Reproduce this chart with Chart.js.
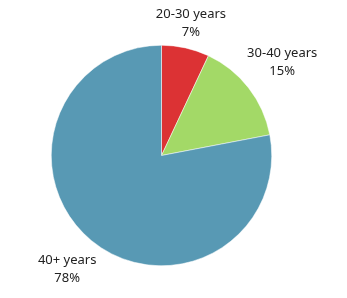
<!DOCTYPE html>
<html>
<head>
<meta charset="utf-8">
<script src="https://cdn.jsdelivr.net/npm/chart.js@4"></script>
<style>
  html, body { margin: 0; padding: 0; background: #fff; }
  #wrap { width: 347px; height: 298px; position: relative; }
</style>
</head>
<body>
<div id="wrap"><canvas id="pieChart"></canvas></div>
<script>
// 연령대별 비중
const labels = ['20-30 years', '30-40 years', '40+ years'];
const values = [7, 15, 78];
const colors = ['#dc3234', '#a3d967', '#5899b4'];

// 조각 바깥쪽에 이름 + 퍼센트 표시
const outsideLabels = {
  id: 'outsideLabels',
  afterDatasetsDraw(chart) {
    const ctx = chart.ctx;
    const meta = chart.getDatasetMeta(0);
    ctx.save();
    ctx.font = '13px "Noto Sans"';
    ctx.fillStyle = '#222';
    ctx.textAlign = 'center';
    ctx.textBaseline = 'middle';
    meta.data.forEach((arc, i) => {
      const mid = (arc.startAngle + arc.endAngle) / 2;
      const s = Math.abs(Math.cos(mid));
      const d = arc.outerRadius + 18 + 31 * s;
      const x = arc.x + Math.cos(mid) * d;
      const y = arc.y + Math.sin(mid) * d;
      ctx.fillText(labels[i], x, y - 9);
      ctx.fillText(values[i] + '%', x, y + 9);
    });
    ctx.restore();
  },
};

new Chart(document.getElementById('pieChart'), {
  type: 'pie',
  data: {
    labels,
    datasets: [{
      data: values,
      backgroundColor: colors,
      borderColor: '#ffffff',
      borderWidth: 0.5,
    }],
  },
  options: {
    responsive: true, maintainAspectRatio: false, animation: false,
    layout: { padding: { left: 51, right: 75, top: 45, bottom: 32 } },
    plugins: { legend: { display: false }, tooltip: { enabled: false } },
  },
  plugins: [outsideLabels],
});
</script>
</body>
</html>
